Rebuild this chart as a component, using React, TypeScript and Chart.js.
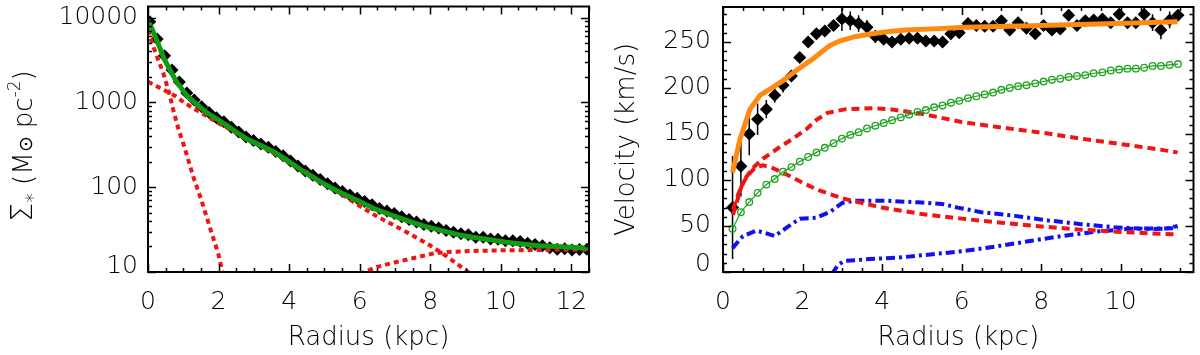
import React, { useEffect, useRef } from 'react';
import { Chart, registerables } from 'chart.js';
Chart.register(...registerables);

const FONT = "'DejaVu Sans', 'Liberation Sans', sans-serif";
const W = '200';

// ---------------- Left panel: surface density ----------------
const sdRadius = [0.05, 0.26, 0.47, 0.68, 0.89, 1.10, 1.31, 1.52, 1.73, 1.94, 2.15, 2.36, 2.57, 2.78, 2.99, 3.20, 3.41, 3.62, 3.83, 4.04, 4.25, 4.46, 4.67, 4.88, 5.09, 5.30, 5.51, 5.72, 5.93, 6.14, 6.35, 6.56, 6.77, 6.98, 7.19, 7.40, 7.61, 7.82, 8.03, 8.24, 8.45, 8.66, 8.87, 9.08, 9.29, 9.50, 9.71, 9.92, 10.13, 10.34, 10.55, 10.76, 10.97, 11.18, 11.39, 11.60, 11.81, 12.02, 12.23, 12.44];
const sdObserved = [8900, 5600, 3550, 2400, 1740, 1290, 1070, 890, 760, 660, 590, 510, 447, 390, 355, 324, 295, 263, 234, 204, 178, 155, 138, 123, 110, 98, 89, 81, 74, 68, 62, 56, 52.5, 49, 44.7, 41.7, 38.9, 36.3, 34.7, 33.1, 30.9, 29.5, 28.2, 27.5, 25.7, 25.7, 24.5, 24.3, 23.4, 23.4, 22.9, 21.9, 21.1, 20.4, 19.3, 18.6, 18.8, 18.2, 18.4, 18.6];

const totalR = [0, 0.15, 0.3, 0.45, 0.6, 0.8, 1.1, 1.4, 1.66, 2.0, 2.23, 2.5, 2.79, 3.2, 3.55, 3.9, 4.21, 4.5, 4.87, 5.2, 5.5, 6.0, 6.4, 6.9, 7.3, 7.8, 8.3, 8.8, 9.2, 9.7, 10.15, 10.6, 11.1, 11.6, 12.1, 12.5];
const totalSD = [9330, 6760, 4790, 3310, 2510, 1780, 1200, 933, 759, 617, 537, 447, 372, 309, 263, 214, 174, 145, 117, 98, 85, 68, 56, 47, 41, 35, 31, 27.5, 25.7, 24, 22.4, 21.4, 20.4, 20, 19.5, 19];

const bulgeR = [0, 0.1, 0.25, 0.43, 0.62, 0.72, 0.86, 1.0, 1.1, 1.28, 1.52, 1.75, 1.99, 2.1, 2.15];
const bulgeSD = [7100, 5200, 3500, 2240, 1200, 800, 490, 327, 240, 134, 69, 34, 16.5, 10.5, 8.5];

const diskR = [0, 0.34, 0.76, 0.95, 1.24, 1.57, 1.94, 2.5, 3.0, 3.5, 4.0, 4.5, 5.0, 5.5, 6.0, 6.5, 7.0, 7.5, 8.0, 8.5, 9.0, 9.15];
const diskSD = [1750, 1480, 1200, 1050, 870, 730, 585, 440, 340, 262, 195, 150, 108, 82, 60, 45, 35, 27, 20.5, 15, 10.5, 9.5];

const outerR = [6.0, 6.5, 7.0, 7.5, 8.1, 8.5, 9.0, 10.0, 11.0, 12.0, 12.5];
const outerSD = [9.5, 11.5, 13, 14.5, 16.6, 17.2, 17.6, 18, 18.2, 18.3, 18.3];

const leftXTicks = [0, 2, 4, 6, 8, 10, 12];
const leftYTicks = [10, 100, 1000, 10000];

// ---------------- Right panel: rotation curve ----------------
const vRadius = [0.24, 0.45, 0.66, 0.87, 1.09, 1.30, 1.51, 1.72, 1.93, 2.14, 2.35, 2.56, 2.78, 2.99, 3.20, 3.41, 3.62, 3.83, 4.04, 4.25, 4.47, 4.68, 4.89, 5.10, 5.31, 5.52, 5.73, 5.94, 6.16, 6.37, 6.58, 6.79, 7.00, 7.21, 7.42, 7.63, 7.85, 8.06, 8.27, 8.48, 8.69, 8.90, 9.11, 9.32, 9.54, 9.75, 9.96, 10.17, 10.38, 10.59, 10.80, 11.01, 11.23, 11.44];
const vObserved = [70, 115, 150, 166, 177, 192, 203, 213, 233, 250, 259, 262, 268, 275, 273, 270, 266, 256, 253, 250, 253, 254, 254, 251, 251, 250, 259, 260, 270, 268, 267, 267, 273, 263, 271, 265, 259, 268, 263, 264, 279, 268, 273, 274, 275, 271, 280, 271, 271, 280, 271, 263, 274, 279];
const vError = [56, 33, 23, 17, 10, 8, 8, 6, 5, 5, 5, 5, 6, 13, 10, 9, 8, 7, 5, 5, 5, 5, 5, 5, 5, 5, 6, 6, 6, 5, 5, 5, 6, 6, 5, 5, 5, 5, 5, 5, 6, 5, 5, 5, 5, 5, 6, 5, 5, 8, 9, 10, 9, 6];
const vGreen = [47, 65, 76, 86, 95, 101, 109, 114, 120, 125, 130, 135, 140, 145, 149, 152, 156, 159, 162, 165, 168, 171, 174, 176, 179, 181, 184, 186, 189, 191, 193, 195, 198, 200, 202, 203, 205, 207, 209, 210, 212, 213, 214, 216, 217, 219, 220, 221, 221, 222, 224, 224, 225, 226];

const orangeR = [0.24, 0.43, 0.68, 0.93, 1.26, 1.51, 1.84, 2.26, 2.68, 2.93, 3.34, 3.76, 4.18, 4.6, 5.43, 6.09, 7.76, 9.43, 11.43];
const orangeV = [108, 145, 177, 192, 201, 208, 219, 231.5, 246, 251, 256, 259, 261.5, 263, 264.5, 266, 267.7, 269.6, 272];

const diskVR = [0.25, 0.5, 0.75, 1.0, 1.4, 1.76, 2.09, 2.34, 2.63, 3.09, 3.76, 4.26, 4.93, 6.0, 7.0, 8.0, 9.0, 10.0, 11.0, 11.43];
const diskV = [62, 98, 113, 123, 135, 145, 155, 165, 173, 177, 178, 176.5, 172.5, 163, 157, 151.5, 145, 139, 133, 130];

const bulgeVR = [0.25, 0.43, 0.6, 0.8, 1.0, 1.2, 1.6, 2.0, 2.4, 3.0, 3.5, 4.0, 5.0, 6.0, 7.0, 8.0, 9.0, 10.0, 11.0, 11.43];
const bulgeV = [68, 90, 104, 113, 116, 114, 106, 97, 89, 80, 75, 70, 63, 58, 53.5, 49.5, 46, 43.5, 41.5, 41];

const gasVR = [0.24, 0.5, 0.84, 1.09, 1.3, 1.59, 1.93, 2.34, 2.68, 3.0, 3.3, 4.1, 4.9, 5.5, 5.9, 6.5, 7.34, 8.18, 9.0, 9.84, 10.76, 11.1, 11.43];
const gasV = [26, 39, 45, 42, 39, 48, 58, 59, 65, 75, 77.5, 77.5, 75.7, 74, 70, 65, 61, 56, 52, 48.6, 46.7, 47, 50];

const outerVR = [2.74, 2.9, 3.05, 3.68, 4.5, 5.34, 6.1, 6.9, 7.76, 8.59, 9.43, 10.26, 11.43];
const outerV = [-2, 8, 12, 14, 16, 19.6, 23, 28, 34, 39.5, 44, 47, 47.5];

const rightXTicks = [0, 2, 4, 6, 8, 10];
const rightYTicks = [0, 50, 100, 150, 200, 250];

const RED = '#f01414';
const BLUE = '#1010f0';
const GREEN = '#139a13';
const GREEN2 = '#1ea51e';
const ORANGE = '#ff8a12';

const pts = (xs: number[], ys: number[]) => xs.map((x, i) => ({ x, y: ys[i] }));

function minorList(max: number, step: number, majors: number[]) {
  const out: [number, boolean][] = [];
  for (let v = 0; v <= max + 1e-9; v += step) {
    const r = Math.round(v * 1000) / 1000;
    out.push([r, majors.some((m) => Math.abs(m - r) < 1e-6)]);
  }
  return out;
}
function logTicks(min: number, max: number) {
  const out: [number, boolean][] = [];
  for (let d = min; d <= max; d *= 10) {
    for (let m = 1; m <= 9; m++) {
      const v = d * m;
      if (v >= min && v <= max) out.push([v, m === 1]);
    }
  }
  return out;
}

const framePlugin = {
  id: 'frame',
  beforeDraw(chart: any, _a: any, o: any) {
    // nudge the lowest y label upward, as in the reference
    const ys = chart.scales.y;
    if (!ys || !o.lowShift) return;
    if (!ys._labelItems) ys._labelItems = ys._computeLabelItems(chart.chartArea);
    const items = ys._labelItems;
    if (items && items.length) {
      const first = items[0];
      if (first && first.options && first.options.translation && !first._shifted) {
        first.options.translation = [first.options.translation[0], first.options.translation[1] - o.lowShift];
        first._shifted = true;
      }
    }
  },
  afterDraw(chart: any, _a: any, o: any) {
    const { ctx, chartArea: a } = chart;
    const xs = chart.scales.x;
    const ys = chart.scales.y;
    ctx.save();
    ctx.strokeStyle = '#000';
    ctx.lineWidth = 1.5;
    ctx.beginPath();
    for (const [v, major] of o.xTicks) {
      const p = Math.round(xs.getPixelForValue(v)) + 0.5;
      const L = major ? 8 : 4;
      ctx.moveTo(p, a.bottom); ctx.lineTo(p, a.bottom - L);
      ctx.moveTo(p, a.top); ctx.lineTo(p, a.top + L);
    }
    for (const [v, major] of o.yTicks) {
      const p = Math.round(ys.getPixelForValue(v)) + 0.5;
      const L = major ? 8 : 4;
      ctx.moveTo(a.left, p); ctx.lineTo(a.left + L, p);
      ctx.moveTo(a.right, p); ctx.lineTo(a.right - L, p);
    }
    ctx.stroke();
    ctx.lineWidth = 2;
    ctx.strokeRect(a.left, a.top, a.right - a.left, a.bottom - a.top);
    ctx.restore();
  },
};

const errPlugin = {
  id: 'errbars',
  beforeDatasetsDraw(chart: any, _a: any, o: any) {
    if (!o || !o.x) return;
    const { ctx, chartArea: a } = chart;
    const xs = chart.scales.x;
    const ys = chart.scales.y;
    ctx.save();
    ctx.beginPath();
    ctx.rect(a.left, a.top, a.right - a.left, a.bottom - a.top);
    ctx.clip();
    ctx.strokeStyle = '#000';
    ctx.lineWidth = 1.5;
    ctx.beginPath();
    o.x.forEach((x: number, i: number) => {
      const px = xs.getPixelForValue(x);
      ctx.moveTo(px, ys.getPixelForValue(o.y[i] - o.e[i]));
      ctx.lineTo(px, ys.getPixelForValue(o.y[i] + o.e[i]));
    });
    ctx.stroke();
    ctx.restore();
  },
};

const sigmaTitlePlugin = {
  id: 'sigmaTitle',
  afterDraw(chart: any, _a: any, o: any) {
    if (!o || !o.show) return;
    const ctx = chart.ctx;
    ctx.save();
    ctx.translate(32, 146);
    ctx.rotate(-Math.PI / 2);
    ctx.fillStyle = '#000';
    ctx.textBaseline = 'alphabetic';
    const parts: any[] = [
      { t: 'Σ', size: 30, dy: 0 },
      { t: '*', size: 19, dy: 7 },
      { t: ' (M', size: 26, dy: 0 },
      { t: '⊙', size: 19, dy: 0 },
      { t: ' pc', size: 26, dy: 0 },
      { t: '-2', size: 17, dy: -12 },
      { t: ')', size: 26, dy: 0 },
    ];
    let total = 0;
    for (const p of parts) {
      ctx.font = `${W} ${p.size}px ${FONT}`;
      p.w = ctx.measureText(p.t).width;
      total += p.w;
    }
    let x = -total / 2;
    for (const p of parts) {
      ctx.font = `${W} ${p.size}px ${FONT}`;
      ctx.fillText(p.t, x, p.dy);
      x += p.w;
    }
    ctx.restore();
  },
};

const tickFont = { family: FONT, size: 25, weight: W as any };
const titleFont = { family: FONT, size: 26, weight: W as any };

function fixScale(width?: number, height?: number) {
  return (s: any) => {
    if (width !== undefined) s.width = width;
    if (height !== undefined) s.height = height;
    s.paddingTop = 0; s.paddingBottom = 0; s.paddingLeft = 0; s.paddingRight = 0;
  };
}

function leftConfig(): any {
  return {
    type: 'line',
    data: {
      datasets: [
        { data: pts(totalR, totalSD), borderColor: GREEN, borderWidth: 5, pointRadius: 0, clip: 0 },
        { data: pts(bulgeR, bulgeSD), borderColor: RED, borderWidth: 4, borderDash: [5, 4], pointRadius: 0, clip: 0 },
        { data: pts(diskR, diskSD), borderColor: RED, borderWidth: 4, borderDash: [5, 4], pointRadius: 0, clip: 0 },
        { data: pts(outerR, outerSD), borderColor: RED, borderWidth: 4, borderDash: [5, 4], pointRadius: 0, clip: 0 },
        { data: pts(sdRadius, sdObserved), showLine: false, pointStyle: 'rectRot', pointRadius: 6.5, backgroundColor: '#000', borderColor: '#000', borderWidth: 0, clip: 0 },
      ],
    },
    options: {
      animation: false,
      responsive: false,
      devicePixelRatio: 1,
      layout: { padding: { left: 0, top: 5, right: 11, bottom: 0 } },
      plugins: {
        legend: { display: false },
        tooltip: { enabled: false },
        frame: { xTicks: minorList(12.5, 0.5, leftXTicks), yTicks: logTicks(10, 13500), lowShift: 6 },
        sigmaTitle: { show: true },
      },
      scales: {
        x: {
          type: 'linear', position: 'bottom', min: 0, max: 12.5,
          grid: { display: false, drawTicks: false }, border: { display: false },
          ticks: { font: tickFont, color: '#000', padding: 15, maxRotation: 0, autoSkip: false, callback: (v: any) => String(v) },
          afterBuildTicks: (s: any) => { s.ticks = leftXTicks.map((v) => ({ value: v })); },
          afterFit: fixScale(undefined, 83),
          title: { display: true, text: 'Radius (kpc)', font: titleFont, color: '#000', padding: { top: 0, bottom: 1 } },
        },
        y: {
          type: 'logarithmic', position: 'left', min: 10, max: 13500,
          grid: { display: false, drawTicks: false }, border: { display: false },
          ticks: { font: tickFont, color: '#000', padding: 10, autoSkip: false, callback: (v: any) => String(v) },
          afterBuildTicks: (s: any) => { s.ticks = leftYTicks.map((v) => ({ value: v })); },
          afterFit: fixScale(148, undefined),
        },
      },
    },
    plugins: [errPlugin, framePlugin, sigmaTitlePlugin],
  };
}

function rightConfig(): any {
  return {
    type: 'line',
    data: {
      datasets: [
        { data: pts(orangeR, orangeV), borderColor: ORANGE, borderWidth: 5, pointRadius: 0, clip: 0 },
        { data: pts(vRadius, vGreen), borderColor: GREEN2, borderWidth: 1.2, pointRadius: 3.3, pointStyle: 'circle', pointBackgroundColor: 'rgba(0,0,0,0)', pointBorderColor: GREEN2, pointBorderWidth: 1.3, clip: 0 },
        { data: pts(diskVR, diskV), borderColor: RED, borderWidth: 4, borderDash: [8, 5], pointRadius: 0, clip: 0 },
        { data: pts(bulgeVR, bulgeV), borderColor: RED, borderWidth: 4, borderDash: [8, 5], pointRadius: 0, clip: 0 },
        { data: pts(gasVR, gasV), borderColor: BLUE, borderWidth: 4, borderDash: [9, 4, 3, 4], pointRadius: 0, clip: 0 },
        { data: pts(outerVR, outerV), borderColor: BLUE, borderWidth: 4, borderDash: [9, 4, 3, 4], pointRadius: 0, clip: 0 },
        { data: pts(vRadius, vObserved), showLine: false, pointStyle: 'rectRot', pointRadius: 6.5, backgroundColor: '#000', borderColor: '#000', borderWidth: 0, clip: 0 },
      ],
    },
    options: {
      animation: false,
      responsive: false,
      devicePixelRatio: 1,
      layout: { padding: { left: 0, top: 7, right: 4, bottom: 0 } },
      plugins: {
        legend: { display: false },
        tooltip: { enabled: false },
        frame: { xTicks: minorList(11.83, 0.5, rightXTicks), yTicks: minorList(288, 10, rightYTicks), lowShift: 8 },
        errbars: { x: vRadius, y: vObserved, e: vError },
      },
      scales: {
        x: {
          type: 'linear', position: 'bottom', min: 0, max: 11.83,
          grid: { display: false, drawTicks: false }, border: { display: false },
          ticks: { font: tickFont, color: '#000', padding: 15, maxRotation: 0, autoSkip: false, callback: (v: any) => String(v) },
          afterBuildTicks: (s: any) => { s.ticks = rightXTicks.map((v) => ({ value: v })); },
          afterFit: fixScale(undefined, 83),
          title: { display: true, text: 'Radius (kpc)', font: titleFont, color: '#000', padding: { top: 0, bottom: 1 } },
        },
        y: {
          type: 'linear', position: 'left', min: 0, max: 288,
          grid: { display: false, drawTicks: false }, border: { display: false },
          ticks: { font: tickFont, color: '#000', padding: 12, autoSkip: false, callback: (v: any) => String(v) },
          afterBuildTicks: (s: any) => { s.ticks = rightYTicks.map((v) => ({ value: v })); },
          afterFit: fixScale(123, undefined),
          title: { display: true, text: 'Velocity (km/s)', font: titleFont, color: '#000', padding: { top: 12, bottom: 0 } },
        },
      },
    },
    plugins: [errPlugin, framePlugin],
  };
}

export default function App() {
  const leftRef = useRef<HTMLCanvasElement>(null);
  const rightRef = useRef<HTMLCanvasElement>(null);
  useEffect(() => {
    const c1 = new Chart(leftRef.current as HTMLCanvasElement, leftConfig());
    const c2 = new Chart(rightRef.current as HTMLCanvasElement, rightConfig());
    return () => { c1.destroy(); c2.destroy(); };
  }, []);
  return (
    <div style={{ position: 'absolute', left: 0, top: 0, width: 1200, height: 355, background: '#fff' }}>
      <canvas ref={leftRef} width={600} height={355} style={{ position: 'absolute', left: 0, top: 0, width: 600, height: 355 }} />
      <canvas ref={rightRef} width={600} height={355} style={{ position: 'absolute', left: 600, top: 0, width: 600, height: 355 }} />
    </div>
  );
}
